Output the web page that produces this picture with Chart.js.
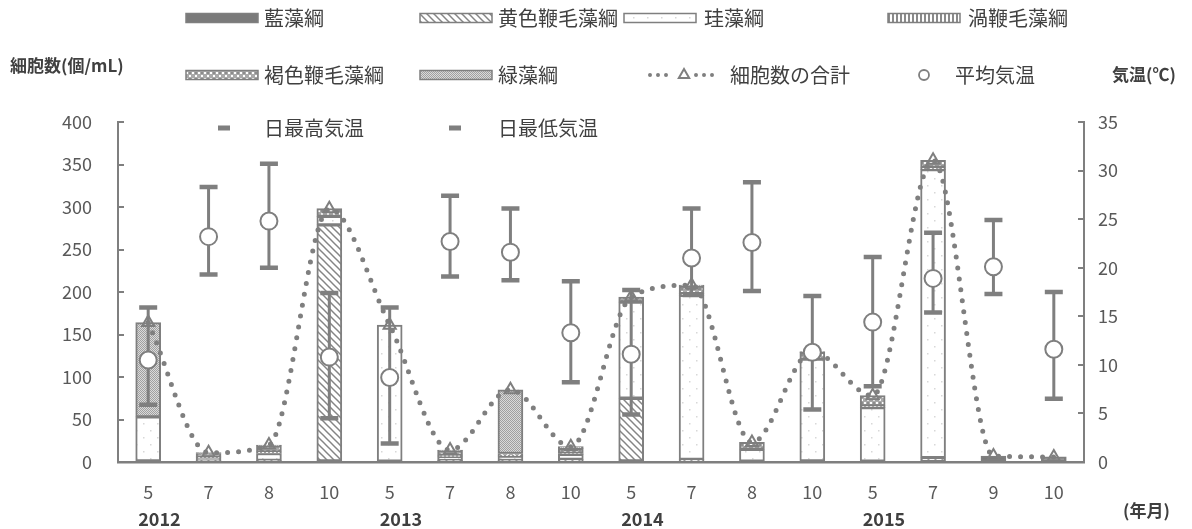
<!DOCTYPE html>
<html>
<head>
<meta charset="utf-8">
<script src="https://cdn.jsdelivr.net/npm/chart.js@4.4.0/dist/chart.umd.min.js"></script>
<style>
  html, body { margin: 0; padding: 0; background: #ffffff; }
  #wrap { position: relative; width: 1192px; height: 529px; }
</style>
</head>
<body>
<div id="wrap"><canvas id="chart" width="1192" height="529"></canvas></div>
<script>
// ---- data ----
const months = ['5', '7', '8', '10', '5', '7', '8', '10', '5', '7', '8', '10', '5', '7', '9', '10'];
const years = ['2012', '2013', '2014', '2015'];
const yearFirstIndex = [0, 4, 8, 12];

// cell counts per class (cells/mL)
const cyanophyceae      = [0, 1, 1, 0, 1, 1, 1, 1, 0, 1, 1, 0, 1, 0, 7, 6];
const chrysophyceae     = [0, 1, 1, 279, 0, 1, 1, 2, 75, 2, 0, 0, 0, 5, 0, 0];
const bacillariophyceae = [53, 3, 8, 10, 160, 4, 5, 6, 113, 193, 14, 121, 63, 339, 0, 0];
const dinophyceae       = [0, 1, 2, 0, 0, 2, 1, 1, 0, 2, 0, 0, 2, 3, 0, 0];
const cryptophyceae     = [0, 4, 7, 9, 0, 5, 2, 6, 6, 9, 8, 8, 12, 8, 0, 0];
const chlorophyceae     = [111, 1, 1, 0, 0, 1, 75, 2, 0, 1, 0, 1, 0, 0, 0, 0];
const totalCells        = [164, 11, 20, 298, 161, 14, 85, 18, 194, 208, 23, 130, 78, 355, 7, 6];

// air temperature (°C)
const meanTemp = [10.5, 23.2, 24.8, 10.8, 8.7, 22.7, 21.6, 13.3, 11.1, 21.0, 22.6, 11.3, 14.4, 18.9, 20.1, 11.6];
const maxTemp  = [15.9, 28.3, 30.7, 17.4, 15.9, 27.4, 26.1, 18.6, 17.7, 26.1, 28.8, 17.1, 21.1, 23.6, 24.9, 17.5];
const minTemp  = [5.9, 19.3, 20.0, 4.5, 1.9, 19.1, 18.7, 8.2, 4.9, 17.2, 17.6, 5.4, 7.8, 15.4, 17.3, 6.5];

// ---- styles ----
const FONT = "'Noto Sans CJK JP', 'Noto Sans', sans-serif";
const GRAY = '#7f7f7f';
const TEXT = '#404040';
const TICK = '#595959';

function makePattern(w, h, paint) {
  const c = document.createElement('canvas');
  c.width = w; c.height = h;
  const g = c.getContext('2d');
  g.fillStyle = '#ffffff';
  g.fillRect(0, 0, w, h);
  paint(g, w, h);
  return g.createPattern(c, 'repeat');
}

const fillSolid = '#7a7a7a';
const fillHatch = makePattern(7, 7, (g) => {
  g.strokeStyle = '#858585';
  g.lineWidth = 1.5;
  [-7, 0, 7].forEach(k => {
    g.beginPath();
    g.moveTo(k - 1, -1);
    g.lineTo(k + 8, 8);
    g.stroke();
  });
});
const fillDots = makePattern(14, 14, (g) => {
  g.fillStyle = '#d8d8d8';
  g.fillRect(3, 3, 1.5, 1.5);
  g.fillRect(10, 10, 1.5, 1.5);
});
const fillVertical = makePattern(4, 4, (g) => {
  g.fillStyle = '#8a8a8a';
  g.fillRect(0, 0, 2, 4);
});
const fillChecker = makePattern(6, 6, (g) => {
  g.fillStyle = '#a9a9a9';
  g.fillRect(0, 0, 6, 6);
  g.fillStyle = '#ffffff';
  g.fillRect(0, 0, 2, 2);
  g.fillRect(3, 3, 2, 2);
  g.fillStyle = '#8c8c8c';
  g.fillRect(3, 0, 2, 2);
});
const fillFine = makePattern(2, 2, (g) => {
  g.fillStyle = '#dadada';
  g.fillRect(0, 0, 2, 2);
  g.fillStyle = '#a0a0a0';
  g.fillRect(0, 0, 1, 1);
  g.fillRect(1, 1, 1, 1);
});

function barSet(label, data, fill) {
  return {
    type: 'bar', label, data,
    backgroundColor: fill, borderColor: GRAY, borderWidth: 2, borderSkipped: false,
    yAxisID: 'y', order: 4, barThickness: 25
  };
}

const datasets = [
  barSet('藍藻綱', cyanophyceae, fillSolid),
  barSet('黄色鞭毛藻綱', chrysophyceae, fillHatch),
  barSet('珪藻綱', bacillariophyceae, fillDots),
  barSet('渦鞭毛藻綱', dinophyceae, fillVertical),
  barSet('褐色鞭毛藻綱', cryptophyceae, fillChecker),
  barSet('緑藻綱', chlorophyceae, fillFine),
  {
    type: 'line', label: '細胞数の合計', data: totalCells, yAxisID: 'y', order: 1,
    borderColor: GRAY, borderWidth: 5, borderDash: [0, 11], borderCapStyle: 'round',
    cubicInterpolationMode: 'monotone', fill: false,
    pointStyle: 'triangle', pointRadius: 7, pointBorderWidth: 2,
    pointBorderColor: GRAY, pointBackgroundColor: 'rgba(255,255,255,0)'
  },
  {
    type: 'line', label: '平均気温', data: meanTemp, yAxisID: 'y2', order: 0, showLine: false,
    pointStyle: 'circle', pointRadius: 8.5, pointBorderWidth: 2,
    pointBorderColor: GRAY, pointBackgroundColor: '#ffffff'
  },
  {
    type: 'line', label: '日最高気温', data: maxTemp, yAxisID: 'y2', order: 0, showLine: false,
    pointStyle: 'line', pointRadius: 9, pointBorderWidth: 4.5, pointBorderColor: GRAY
  },
  {
    type: 'line', label: '日最低気温', data: minTemp, yAxisID: 'y2', order: 0, showLine: false,
    pointStyle: 'line', pointRadius: 9, pointBorderWidth: 4.5, pointBorderColor: GRAY
  },
  {
    type: 'bar', label: '気温範囲', data: minTemp.map((v, i) => [v, maxTemp[i]]), yAxisID: 'y2',
    order: 3, grouped: false, maxBarThickness: 3, backgroundColor: GRAY, borderWidth: 0
  }
];

// legend grid: dataset index, marker kind, marker x, text x, row y
const legendLayout = [
  { ds: 0, kind: 'box', x: 186, tx: 264, y: 18 },
  { ds: 1, kind: 'box', x: 420, tx: 498, y: 18 },
  { ds: 2, kind: 'box', x: 624, tx: 704, y: 18 },
  { ds: 3, kind: 'box', x: 888, tx: 968, y: 18 },
  { ds: 4, kind: 'box', x: 186, tx: 264, y: 75 },
  { ds: 5, kind: 'box', x: 420, tx: 498, y: 75 },
  { ds: 6, kind: 'dotted', x: 650, tx: 730, y: 75 },
  { ds: 7, kind: 'circle', x: 924, tx: 955, y: 75 },
  { ds: 8, kind: 'dash', x: 224, tx: 264, y: 128 },
  { ds: 9, kind: 'dash', x: 455, tx: 498, y: 128 }
];

const gridLegend = {
  id: 'gridLegend',
  afterDraw(chart) {
    const ctx = chart.ctx;
    ctx.save();
    legendLayout.forEach(item => {
      const ds = chart.data.datasets[item.ds];
      ctx.strokeStyle = GRAY;
      ctx.fillStyle = GRAY;
      ctx.setLineDash([]);
      if (item.kind === 'box') {
        ctx.fillStyle = ds.backgroundColor;
        ctx.fillRect(item.x, item.y - 4.5, 72, 9);
        ctx.lineWidth = 1.5;
        ctx.strokeRect(item.x, item.y - 4.5, 72, 9);
      } else if (item.kind === 'dotted') {
        ctx.lineWidth = 4;
        ctx.lineCap = 'round';
        ctx.setLineDash([0, 8]);
        ctx.beginPath();
        ctx.moveTo(item.x, item.y);
        ctx.lineTo(item.x + 22, item.y);
        ctx.moveTo(item.x + 46, item.y);
        ctx.lineTo(item.x + 70, item.y);
        ctx.stroke();
        ctx.setLineDash([]);
        ctx.lineWidth = 2;
        ctx.fillStyle = 'rgba(255,255,255,0)';
        Chart.helpers.drawPoint(ctx, { pointStyle: 'triangle', radius: 6, borderWidth: 2 }, item.x + 34, item.y);
      } else if (item.kind === 'circle') {
        ctx.lineWidth = 1.8;
        ctx.fillStyle = '#ffffff';
        Chart.helpers.drawPoint(ctx, { pointStyle: 'circle', radius: 5, borderWidth: 1.8 }, item.x, item.y);
      } else if (item.kind === 'dash') {
        ctx.fillRect(item.x - 6, item.y - 2.5, 12, 5);
      }
      ctx.fillStyle = TEXT;
      ctx.font = `20px ${FONT}`;
      ctx.textAlign = 'left';
      ctx.textBaseline = 'middle';
      ctx.fillText(ds.label, item.tx, item.y);
    });
    ctx.restore();
  }
};

// axis titles and year captions under the month ticks
const captions = {
  id: 'captions',
  afterDraw(chart) {
    const ctx = chart.ctx;
    const xs = chart.scales.x;
    ctx.save();
    ctx.fillStyle = TEXT;
    ctx.textBaseline = 'middle';
    ctx.font = `bold 17px ${FONT}`;
    ctx.textAlign = 'left';
    ctx.fillText('細胞数(個/mL)', 10, 66);
    ctx.fillText('気温(℃)', 1112, 75);
    ctx.fillText('(年月)', 1123, 511);
    ctx.font = `bold 18px ${FONT}`;
    years.forEach((yr, i) => {
      const px = xs.getPixelForValue(yearFirstIndex[i]);
      ctx.fillText(yr, px - 10, 519);
    });
    ctx.restore();
  }
};

new Chart(document.getElementById('chart'), {
  data: { labels: months, datasets },
  plugins: [gridLegend, captions],
  options: {
    responsive: false,
    animation: false,
    devicePixelRatio: 1,
    layout: { padding: { top: 122, left: 0, right: 0, bottom: 0 } },
    plugins: { legend: { display: false }, tooltip: { enabled: false } },
    scales: {
      x: {
        stacked: true,
        grid: { display: false, drawTicks: false },
        border: { display: true, color: GRAY, width: 2.5 },
        ticks: { color: TICK, font: { family: FONT, size: 18 }, padding: 19, maxRotation: 0, autoSkip: false },
        afterFit(s) { s.height = 67; }
      },
      y: {
        stacked: true,
        position: 'left',
        min: 0, max: 400,
        ticks: { stepSize: 50, color: TICK, font: { family: FONT, size: 18 }, padding: 32 },
        grid: { drawOnChartArea: false, drawTicks: true, tickLength: -6, color: GRAY, lineWidth: 2 },
        border: { display: true, color: GRAY, width: 2 },
        afterFit(s) { s.width = 118; }
      },
      y2: {
        position: 'right',
        min: 0, max: 35,
        ticks: { stepSize: 5, color: TICK, font: { family: FONT, size: 18 }, padding: 20 },
        grid: { drawOnChartArea: false, drawTicks: true, tickLength: -6, color: GRAY, lineWidth: 2 },
        border: { display: true, color: GRAY, width: 2 },
        afterFit(s) { s.width = 108; }
      }
    }
  }
});
</script>
</body>
</html>
